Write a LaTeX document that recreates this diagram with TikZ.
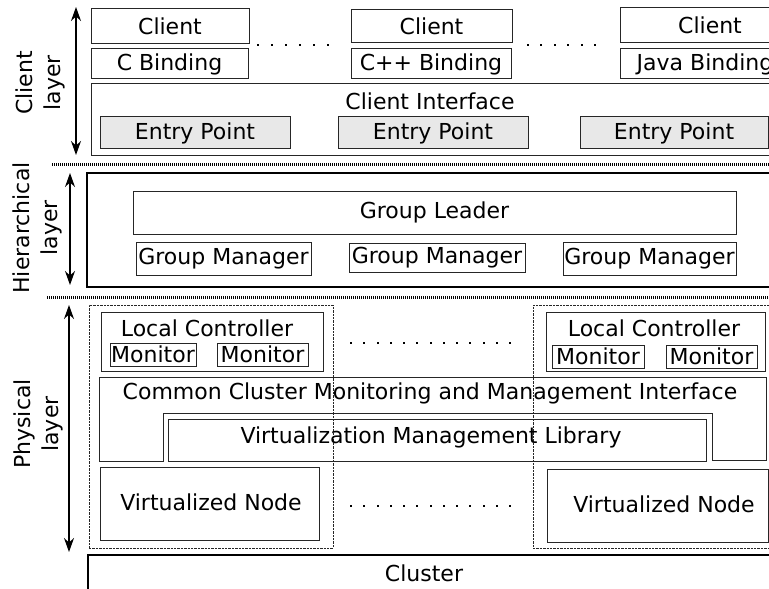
\documentclass[tikz,border=0pt]{standalone}
\usepackage{fontspec}
\setmainfont{DejaVu Sans}
\usetikzlibrary{arrows.meta}
\tikzset{
  every node/.style={font=\fontsize{11}{14}\selectfont},
  box/.style={draw=black!85, line width=0.5pt, inner sep=0pt},
  bigbox/.style={draw=black, line width=0.75pt, inner sep=0pt},
  epbox/.style={box, fill=black!9},
  dashbox/.style={draw=black!85, line width=0.4pt, dash pattern=on 1.2pt off 0.5pt, inner sep=0pt},
  sep/.style={draw=black, line width=1.5pt, dash pattern=on 0.5pt off 0.5pt},
  layerarrow/.style={line width=0.6pt, {Stealth[length=7pt,width=5pt]}-{Stealth[length=7pt,width=5pt]}},
  layerlabel/.style={rotate=90, align=center},
  txt/.style={inner sep=0pt},
  dotmark/.style={fill=black, draw=none}
}
% #1 style, #2 name, #3 x1, #4 y1, #5 x2, #6 y2, #7 text
\newcommand\mybox[7][box]{%
  \pgfmathsetmacro\bw{(#5-#3)*0.5}\pgfmathsetmacro\bh{(#6-#4)*0.5}%
  \node[#1, minimum width=\bw pt, minimum height=\bh pt] (#2) at ({(#3+#5)/2},{(#4+#6)/2}) {#7};}
\begin{document}
\begin{tikzpicture}[x=0.5pt,y=-0.5pt]
\useasboundingbox (0,0) rectangle (769,588);
\clip (0,0) rectangle (769,588);

% ---------- Client layer ----------
\coordinate (a1t) at (76,7);
\coordinate (a1b) at (76,155);
\draw[layerarrow] (a1t) -- (a1b);
\node[layerlabel] (lab1) at (40,83) {Client\\layer};

\mybox{cl1}{91}{9}{249}{44}{Client}
\mybox{cb1}{91}{49}{248}{79}{C Binding}
\mybox{cl2}{351}{10}{512}{43}{Client}
\mybox{cb2}{351}{49}{511}{79}{C++ Binding}
\mybox{cl3}{620}{8}{800}{43}{Client}
\mybox{cb3}{620}{49}{790}{79}{Java Binding}

\mybox{ci}{91}{84}{800}{156}{}
\node[txt] (citxt) at (430,101) {Client Interface};
\mybox[epbox]{ep1}{100}{117}{290}{149}{Entry Point}
\mybox[epbox]{ep2}{338}{117}{528}{149}{Entry Point}
\mybox[epbox]{ep3}{580}{117}{768}{149}{Entry Point}

\foreach \i in {0,...,5} {
  \fill[dotmark] (258+\i*14-1,44) rectangle (258+\i*14+1,46);
  \fill[dotmark] (528+\i*13.4-1,44) rectangle (528+\i*13.4+1,46);
}

\coordinate (s1a) at (52,165);
\coordinate (s1b) at (769,165);
\draw[sep] (s1a) -- (s1b);

% ---------- Hierarchical layer ----------
\coordinate (a2t) at (70,173);
\coordinate (a2b) at (70,285);
\draw[layerarrow] (a2t) -- (a2b);
\node[layerlabel] (lab2) at (37,228) {Hierarchical\\layer};

\mybox[bigbox]{hb}{87}{173}{800}{287}{}
\mybox{gl}{133}{191}{736}{234}{Group Leader}
\mybox{gm1}{136}{242}{311}{275}{Group Manager}
\mybox{gm2}{349}{243}{525}{272}{Group Manager}
\mybox{gm3}{563}{242}{736}{275}{Group Manager}

\coordinate (s2a) at (47,297);
\coordinate (s2b) at (769,297);
\draw[sep] (s2a) -- (s2b);

% ---------- Physical layer ----------
\coordinate (a3t) at (69,305);
\coordinate (a3b) at (69,552);
\draw[layerarrow] (a3t) -- (a3b);
\node[layerlabel] (lab3) at (38,424) {Physical\\layer};

\mybox[dashbox]{db1}{89}{305}{333}{548}{}
\mybox[dashbox]{db2}{533}{305}{800}{548}{}

\mybox{lc1}{101}{312}{323}{371}{}
\node[txt] (lc1txt) at (207,328) {Local Controller};
\mybox{m1}{110}{343}{196}{366}{Monitor}
\mybox{m2}{217}{343}{308}{366}{Monitor}

\mybox{lc2}{546}{312}{765}{371}{}
\node[txt] (lc2txt) at (654,328) {Local Controller};
\mybox{m3}{552}{345}{644}{368}{Monitor}
\mybox{m4}{666}{345}{757}{368}{Monitor}

\foreach \i in {0,...,12} {
  \fill[dotmark] (351+\i*13.25-1,342) rectangle (351+\i*13.25+1,344);
  \fill[dotmark] (351+\i*13.25-1,505) rectangle (351+\i*13.25+1,507);
}

\draw[draw=black!85, line width=0.5pt] (99,377) -- (766,377) -- (766,460) -- (712,460)
  -- (712,413) -- (163,413) -- (163,461) -- (99,461) -- cycle;
\node[txt] (ccm) at (430,393) {Common Cluster Monitoring and Management Interface};

\mybox{vml}{168}{419}{706}{461}{}
\node[txt] (vmltxt) at (431,437) {Virtualization Management Library};

\mybox{vn1}{100}{467}{319}{540}{}
\node[txt] (vn1txt) at (211,502) {Virtualized Node};
\mybox{vn2}{547}{469}{768}{542}{}
\node[txt] (vn2txt) at (664,504) {Virtualized Node};

\mybox[bigbox]{cluster}{88}{555}{800}{620}{}
\node[txt] (clustertxt) at (424,573) {Cluster};
\end{tikzpicture}
\end{document}
